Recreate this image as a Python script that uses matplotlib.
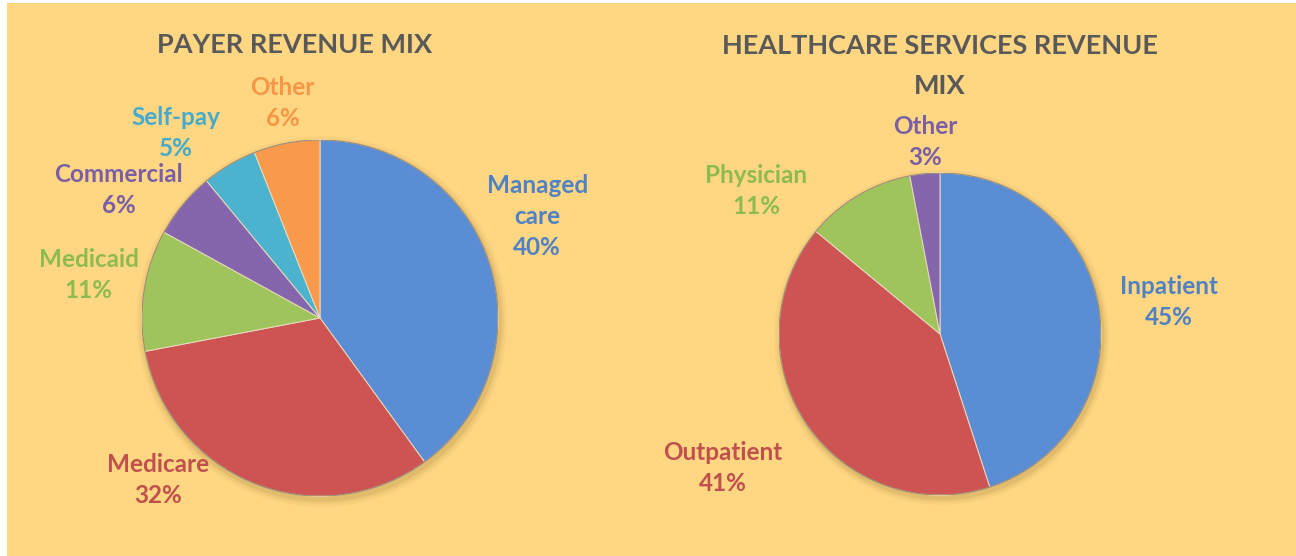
import numpy as np
import matplotlib
matplotlib.use("Agg")
from matplotlib import pyplot as plt
from matplotlib.patches import Rectangle

# payer pie
payer_labels = ["Managed\ncare", "Medicare", "Medicaid", "Commercial", "Self-pay", "Other"]
payer_values = [40, 32, 11, 6, 5, 6]
payer_colors = ["#5B8DD4", "#CD5452", "#A0C45C", "#8566AC", "#4CB2CE", "#F89A4B"]
payer_text = ["#4F81C4", "#C0504D", "#8DBB4F", "#7A5FA6", "#45AACB", "#F79646"]
# label block centres, in pie radii from the centre
payer_label_xy = [(1.22, 0.57), (-0.91, -0.91), (-1.30, 0.24), (-1.13, 0.72), (-0.81, 1.04), (-0.21, 1.21)]

# services pie
serv_labels = ["Inpatient", "Outpatient", "Physician", "Other"]
serv_values = [45, 41, 11, 3]
serv_colors = ["#5B8DD4", "#CD5452", "#A0C45C", "#8566AC"]
serv_text = ["#4F81C4", "#C0504D", "#8DBB4F", "#7A5FA6"]
serv_label_xy = [(1.42, 0.20), (-1.35, -0.83), (-1.14, 0.89), (-0.09, 1.19)]

BG = "#FFD782"
FONT = "Lato"
W, H = 1296, 556

fig = plt.figure(figsize=(W / 100, H / 100), dpi=100, facecolor="white")
fig.patches.append(Rectangle((7 / W, 0), 1 - 7 / W, 1 - 3 / H, transform=fig.transFigure,
                             facecolor=BG, edgecolor="none", zorder=-10))


def draw_pie(cx, cy, r, values, colors, labels, text_colors, label_xy):
    ax = fig.add_axes([(cx - r) / W, (H - cy - r) / H, 2 * r / W, 2 * r / H])
    ax.set_xlim(-1, 1)
    ax.set_ylim(-1, 1)
    ax.axis("off")
    # soft shadow under the pie
    for k, a in zip([1.04, 1.025, 1.012], [0.06, 0.08, 0.12]):
        ax.add_patch(plt.Circle((0.01, -0.02), k, color="#8a6a30", alpha=a, clip_on=False, lw=0))
    ax.pie(values, colors=colors, startangle=90, counterclock=False, radius=1,
           wedgeprops=dict(edgecolor="#e9dcc0", linewidth=0.7))
    ax.add_patch(plt.Circle((0, 0), 1, fill=False, edgecolor="#6b5a45", lw=0.8, alpha=0.6))
    ax.set_xlim(-1, 1)
    ax.set_ylim(-1, 1)
    for lab, v, c, (x, y) in zip(labels, values, text_colors, label_xy):
        ax.text(x, y, f"{lab}\n{v}%", color=c, ha="center", va="center", fontsize=17.5,
                fontweight="bold", family=FONT, linespacing=1.42, clip_on=False)
    return ax


draw_pie(320, 318, 178, payer_values, payer_colors, payer_labels, payer_text, payer_label_xy)
draw_pie(940, 334, 161, serv_values, serv_colors, serv_labels, serv_text, serv_label_xy)

fig.text(295 / W, 1 - 45 / H, "PAYER REVENUE MIX", ha="center", va="center", fontsize=19.5,
         fontweight="bold", color="#595959", family=FONT)
fig.text(940 / W, 1 - 66 / H, "HEALTHCARE SERVICES REVENUE\nMIX", ha="center", va="center",
         fontsize=19.5, fontweight="bold", color="#595959", family=FONT, linespacing=1.8)

fig.savefig("out.png", dpi=100, facecolor=fig.get_facecolor())
